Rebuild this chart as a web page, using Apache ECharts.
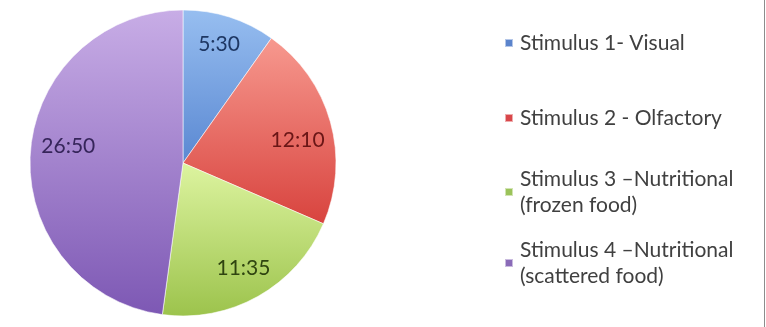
<!DOCTYPE html>
<html>
<head>
<meta charset="utf-8">
<script src="https://cdn.jsdelivr.net/npm/echarts@6/dist/echarts.min.js"></script>
<style>
html,body{margin:0;padding:0;background:#fff;}
#chart{width:766px;height:327px;}
</style>
</head>
<body>
<div id="chart"></div>
<script>
// Data (durations, mm:ss)
var categories = [
  'Stimulus 1- Visual',
  'Stimulus 2 - Olfactory',
  'Stimulus 3 \u2013Nutritional\n(frozen food)',
  'Stimulus 4 \u2013Nutritional\n(scattered food)'
];
var durationLabels = ['5:30', '12:10', '11:35', '26:50'];
var minutes = [5, 12, 11, 26];
var seconds = [30, 10, 35, 50];

// Styles
var gradTop = ['#97BEF0', '#F7998F', '#DDF4A0', '#C8ADE6'];
var gradBottom = ['#5A88D2', '#D8433E', '#9CC34C', '#7D58B4'];
var legendColors = ['#5B84CC', '#D9474A', '#9BC35A', '#8A6BB8'];
var labelColors = ['#1E3763', '#6A1616', '#2F4410', '#36255A'];
var labelNudge = [[0, -5], [0, 9], [2, 2], [4, -9]];

var values = minutes.map(function (m, i) { return m * 60 + seconds[i]; });

var mainData = values.map(function (v, i) {
  return {
    name: categories[i],
    value: v,
    itemStyle: {
      color: new echarts.graphic.LinearGradient(0, 0, 0, 1, [
        {offset: 0, color: gradTop[i]},
        {offset: 1, color: gradBottom[i]}
      ])
    }
  };
});
var labelData = values.map(function (v, i) {
  return {
    name: categories[i],
    value: v,
    label: {
      formatter: durationLabels[i],
      color: labelColors[i],
      offset: labelNudge[i]
    }
  };
});

var FONT = 'Lato';
var LH = 26;
var legendTargets = [38, 113, 187, 258];
var legends = categories.map(function (c, i) {
  var twoLine = c.indexOf('\n') >= 0;
  return {
    orient: 'vertical',
    left: 499,
    top: twoLine ? legendTargets[i] - 1.5 * LH : legendTargets[i] - LH / 2,
    icon: 'rect',
    itemWidth: 8,
    itemHeight: 8,
    itemGap: 0,
    selectedMode: false,
    data: [{name: c, itemStyle: {color: legendColors[i]}}],
    textStyle: {
      fontFamily: FONT,
      fontSize: 21,
      color: '#404040',
      lineHeight: LH,
      padding: twoLine ? [LH, 0, 0, 2] : [0, 0, 0, 2],
      backgroundColor: 'rgba(0,0,0,0)'
    }
  };
});

var chart = echarts.init(document.getElementById('chart'), null, {renderer: 'canvas'});
chart.setOption({
  backgroundColor: '#ffffff',
  animation: false,
  legend: legends,
  series: [
    {
      type: 'pie',
      center: [183, 163],
      radius: [0, 153],
      startAngle: 90,
      clockwise: true,
      silent: true,
      label: {show: false},
      labelLine: {show: false},
      itemStyle: {borderColor: 'rgba(255,255,255,0.55)', borderWidth: 1},
      data: mainData
    },
    {
      type: 'pie',
      center: [183, 163],
      radius: [0, 232],
      startAngle: 90,
      clockwise: true,
      silent: true,
      itemStyle: {color: 'rgba(0,0,0,0)', borderWidth: 0},
      label: {
        show: true,
        position: 'inside',
        fontFamily: FONT,
        fontSize: 21,
        fontWeight: 'normal'
      },
      labelLine: {show: false},
      data: labelData
    }
  ],
  graphic: [{
    type: 'line',
    shape: {x1: 764.5, y1: 0, x2: 764.5, y2: 327},
    style: {stroke: '#8C8C8C', lineWidth: 1}
  }]
});
</script>
</body>
</html>
